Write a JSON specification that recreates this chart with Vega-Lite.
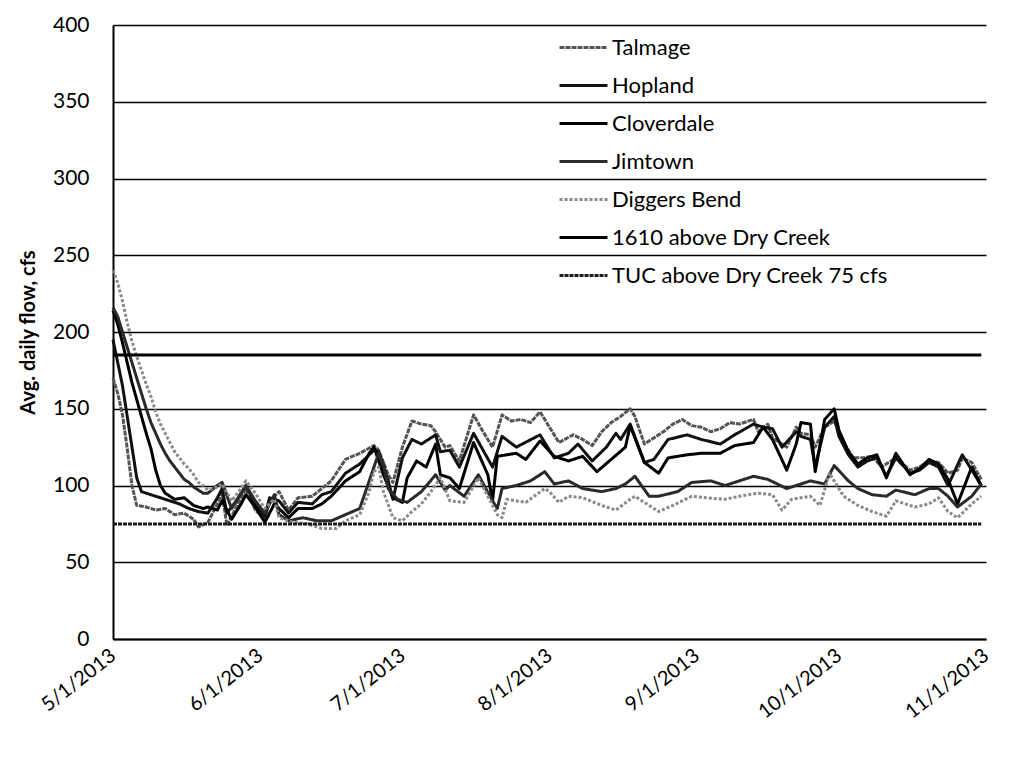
{
  "$schema": "https://vega.github.io/schema/vega-lite/v6.json",
  "width": 873,
  "height": 614,
  "autosize": "none",
  "padding": {"left": 113, "top": 25, "right": 41, "bottom": 121},
  "background": "white",
  "config": {
    "font": "Lato",
    "view": {"stroke": null},
    "axis": {"labelFont": "Lato", "titleFont": "Lato", "labelColor": "#000", "titleColor": "#000"}
  },
  "datasets": {
    "flows": [
      {"s":"Talmage","d":"2013-05-01","v":170},{"s":"Talmage","d":"2013-05-02","v":160},{"s":"Talmage","d":"2013-05-03","v":146},{"s":"Talmage","d":"2013-05-04","v":124},{"s":"Talmage","d":"2013-05-05","v":100},{"s":"Talmage","d":"2013-05-06","v":87},{"s":"Talmage","d":"2013-05-08","v":86},{"s":"Talmage","d":"2013-05-10","v":84},{"s":"Talmage","d":"2013-05-12","v":85},{"s":"Talmage","d":"2013-05-14","v":81},{"s":"Talmage","d":"2013-05-16","v":82},{"s":"Talmage","d":"2013-05-18","v":78},{"s":"Talmage","d":"2013-05-19","v":73},{"s":"Talmage","d":"2013-05-21","v":76},{"s":"Talmage","d":"2013-05-23","v":88},{"s":"Talmage","d":"2013-05-24","v":95},{"s":"Talmage","d":"2013-05-25","v":74},{"s":"Talmage","d":"2013-05-27","v":86},{"s":"Talmage","d":"2013-05-29","v":98},{"s":"Talmage","d":"2013-05-31","v":84},{"s":"Talmage","d":"2013-06-02","v":78},{"s":"Talmage","d":"2013-06-03","v":90},{"s":"Talmage","d":"2013-06-05","v":96},{"s":"Talmage","d":"2013-06-07","v":84},{"s":"Talmage","d":"2013-06-09","v":92},{"s":"Talmage","d":"2013-06-12","v":93},{"s":"Talmage","d":"2013-06-14","v":98},{"s":"Talmage","d":"2013-06-16","v":103},{"s":"Talmage","d":"2013-06-19","v":117},{"s":"Talmage","d":"2013-06-22","v":121},{"s":"Talmage","d":"2013-06-25","v":126},{"s":"Talmage","d":"2013-06-26","v":123},{"s":"Talmage","d":"2013-06-28","v":107},{"s":"Talmage","d":"2013-06-29","v":102},{"s":"Talmage","d":"2013-07-01","v":125},{"s":"Talmage","d":"2013-07-03","v":142},{"s":"Talmage","d":"2013-07-05","v":140},{"s":"Talmage","d":"2013-07-07","v":139},{"s":"Talmage","d":"2013-07-08","v":135},{"s":"Talmage","d":"2013-07-10","v":125},{"s":"Talmage","d":"2013-07-11","v":126},{"s":"Talmage","d":"2013-07-13","v":116},{"s":"Talmage","d":"2013-07-16","v":146},{"s":"Talmage","d":"2013-07-18","v":135},{"s":"Talmage","d":"2013-07-20","v":125},{"s":"Talmage","d":"2013-07-22","v":146},{"s":"Talmage","d":"2013-07-24","v":142},{"s":"Talmage","d":"2013-07-26","v":143},{"s":"Talmage","d":"2013-07-28","v":141},{"s":"Talmage","d":"2013-07-30","v":148},{"s":"Talmage","d":"2013-08-01","v":138},{"s":"Talmage","d":"2013-08-03","v":128},{"s":"Talmage","d":"2013-08-06","v":133},{"s":"Talmage","d":"2013-08-08","v":130},{"s":"Talmage","d":"2013-08-10","v":126},{"s":"Talmage","d":"2013-08-12","v":135},{"s":"Talmage","d":"2013-08-14","v":141},{"s":"Talmage","d":"2013-08-16","v":145},{"s":"Talmage","d":"2013-08-18","v":150},{"s":"Talmage","d":"2013-08-19","v":145},{"s":"Talmage","d":"2013-08-21","v":127},{"s":"Talmage","d":"2013-08-23","v":131},{"s":"Talmage","d":"2013-08-25","v":135},{"s":"Talmage","d":"2013-08-27","v":140},{"s":"Talmage","d":"2013-08-29","v":143},{"s":"Talmage","d":"2013-08-31","v":139},{"s":"Talmage","d":"2013-09-02","v":138},{"s":"Talmage","d":"2013-09-04","v":135},{"s":"Talmage","d":"2013-09-06","v":137},{"s":"Talmage","d":"2013-09-08","v":141},{"s":"Talmage","d":"2013-09-10","v":140},{"s":"Talmage","d":"2013-09-13","v":143},{"s":"Talmage","d":"2013-09-14","v":135},{"s":"Talmage","d":"2013-09-16","v":140},{"s":"Talmage","d":"2013-09-17","v":131},{"s":"Talmage","d":"2013-09-20","v":125},{"s":"Talmage","d":"2013-09-22","v":138},{"s":"Talmage","d":"2013-09-23","v":134},{"s":"Talmage","d":"2013-09-25","v":133},{"s":"Talmage","d":"2013-09-26","v":125},{"s":"Talmage","d":"2013-09-28","v":138},{"s":"Talmage","d":"2013-09-30","v":142},{"s":"Talmage","d":"2013-10-02","v":128},{"s":"Talmage","d":"2013-10-04","v":118},{"s":"Talmage","d":"2013-10-06","v":118},{"s":"Talmage","d":"2013-10-08","v":119},{"s":"Talmage","d":"2013-10-10","v":112},{"s":"Talmage","d":"2013-10-13","v":118},{"s":"Talmage","d":"2013-10-16","v":110},{"s":"Talmage","d":"2013-10-18","v":112},{"s":"Talmage","d":"2013-10-20","v":116},{"s":"Talmage","d":"2013-10-22","v":115},{"s":"Talmage","d":"2013-10-24","v":108},{"s":"Talmage","d":"2013-10-26","v":110},{"s":"Talmage","d":"2013-10-27","v":118},{"s":"Talmage","d":"2013-10-29","v":115},{"s":"Talmage","d":"2013-10-31","v":104},

      {"s":"Hopland","d":"2013-05-01","v":195},{"s":"Hopland","d":"2013-05-02","v":180},{"s":"Hopland","d":"2013-05-03","v":165},{"s":"Hopland","d":"2013-05-04","v":145},{"s":"Hopland","d":"2013-05-05","v":125},{"s":"Hopland","d":"2013-05-06","v":105},{"s":"Hopland","d":"2013-05-07","v":96},{"s":"Hopland","d":"2013-05-09","v":94},{"s":"Hopland","d":"2013-05-11","v":92},{"s":"Hopland","d":"2013-05-13","v":90},{"s":"Hopland","d":"2013-05-15","v":88},{"s":"Hopland","d":"2013-05-17","v":85},{"s":"Hopland","d":"2013-05-19","v":83},{"s":"Hopland","d":"2013-05-21","v":82},{"s":"Hopland","d":"2013-05-23","v":92},{"s":"Hopland","d":"2013-05-24","v":98},{"s":"Hopland","d":"2013-05-25","v":82},{"s":"Hopland","d":"2013-05-27","v":90},{"s":"Hopland","d":"2013-05-29","v":100},{"s":"Hopland","d":"2013-05-31","v":88},{"s":"Hopland","d":"2013-06-02","v":80},{"s":"Hopland","d":"2013-06-03","v":92},{"s":"Hopland","d":"2013-06-05","v":90},{"s":"Hopland","d":"2013-06-07","v":82},{"s":"Hopland","d":"2013-06-09","v":89},{"s":"Hopland","d":"2013-06-12","v":88},{"s":"Hopland","d":"2013-06-14","v":94},{"s":"Hopland","d":"2013-06-16","v":96},{"s":"Hopland","d":"2013-06-19","v":108},{"s":"Hopland","d":"2013-06-22","v":114},{"s":"Hopland","d":"2013-06-25","v":123},{"s":"Hopland","d":"2013-06-26","v":122},{"s":"Hopland","d":"2013-06-28","v":103},{"s":"Hopland","d":"2013-06-29","v":91},{"s":"Hopland","d":"2013-07-01","v":118},{"s":"Hopland","d":"2013-07-03","v":130},{"s":"Hopland","d":"2013-07-05","v":127},{"s":"Hopland","d":"2013-07-08","v":133},{"s":"Hopland","d":"2013-07-09","v":122},{"s":"Hopland","d":"2013-07-11","v":123},{"s":"Hopland","d":"2013-07-13","v":112},{"s":"Hopland","d":"2013-07-16","v":134},{"s":"Hopland","d":"2013-07-20","v":112},{"s":"Hopland","d":"2013-07-22","v":132},{"s":"Hopland","d":"2013-07-25","v":125},{"s":"Hopland","d":"2013-07-30","v":133},{"s":"Hopland","d":"2013-08-02","v":118},{"s":"Hopland","d":"2013-08-05","v":121},{"s":"Hopland","d":"2013-08-07","v":127},{"s":"Hopland","d":"2013-08-10","v":116},{"s":"Hopland","d":"2013-08-13","v":125},{"s":"Hopland","d":"2013-08-15","v":134},{"s":"Hopland","d":"2013-08-16","v":130},{"s":"Hopland","d":"2013-08-18","v":140},{"s":"Hopland","d":"2013-08-21","v":115},{"s":"Hopland","d":"2013-08-23","v":117},{"s":"Hopland","d":"2013-08-26","v":130},{"s":"Hopland","d":"2013-08-30","v":133},{"s":"Hopland","d":"2013-09-02","v":130},{"s":"Hopland","d":"2013-09-06","v":127},{"s":"Hopland","d":"2013-09-09","v":133},{"s":"Hopland","d":"2013-09-13","v":140},{"s":"Hopland","d":"2013-09-15","v":138},{"s":"Hopland","d":"2013-09-17","v":137},{"s":"Hopland","d":"2013-09-19","v":125},{"s":"Hopland","d":"2013-09-22","v":135},{"s":"Hopland","d":"2013-09-23","v":132},{"s":"Hopland","d":"2013-09-25","v":130},{"s":"Hopland","d":"2013-09-26","v":112},{"s":"Hopland","d":"2013-09-28","v":138},{"s":"Hopland","d":"2013-09-30","v":145},{"s":"Hopland","d":"2013-10-01","v":132},{"s":"Hopland","d":"2013-10-03","v":120},{"s":"Hopland","d":"2013-10-05","v":112},{"s":"Hopland","d":"2013-10-07","v":116},{"s":"Hopland","d":"2013-10-09","v":118},{"s":"Hopland","d":"2013-10-11","v":106},{"s":"Hopland","d":"2013-10-13","v":118},{"s":"Hopland","d":"2013-10-16","v":108},{"s":"Hopland","d":"2013-10-18","v":110},{"s":"Hopland","d":"2013-10-20","v":115},{"s":"Hopland","d":"2013-10-22","v":112},{"s":"Hopland","d":"2013-10-24","v":100},{"s":"Hopland","d":"2013-10-27","v":120},{"s":"Hopland","d":"2013-10-29","v":110},{"s":"Hopland","d":"2013-10-31","v":100},

      {"s":"Cloverdale","d":"2013-05-01","v":214},{"s":"Cloverdale","d":"2013-05-02","v":205},{"s":"Cloverdale","d":"2013-05-03","v":193},{"s":"Cloverdale","d":"2013-05-04","v":180},{"s":"Cloverdale","d":"2013-05-05","v":167},{"s":"Cloverdale","d":"2013-05-06","v":156},{"s":"Cloverdale","d":"2013-05-07","v":145},{"s":"Cloverdale","d":"2013-05-08","v":134},{"s":"Cloverdale","d":"2013-05-09","v":124},{"s":"Cloverdale","d":"2013-05-10","v":110},{"s":"Cloverdale","d":"2013-05-11","v":100},{"s":"Cloverdale","d":"2013-05-12","v":95},{"s":"Cloverdale","d":"2013-05-14","v":91},{"s":"Cloverdale","d":"2013-05-16","v":92},{"s":"Cloverdale","d":"2013-05-18","v":87},{"s":"Cloverdale","d":"2013-05-20","v":85},{"s":"Cloverdale","d":"2013-05-21","v":86},{"s":"Cloverdale","d":"2013-05-23","v":84},{"s":"Cloverdale","d":"2013-05-24","v":90},{"s":"Cloverdale","d":"2013-05-26","v":78},{"s":"Cloverdale","d":"2013-05-28","v":88},{"s":"Cloverdale","d":"2013-05-29","v":94},{"s":"Cloverdale","d":"2013-05-31","v":86},{"s":"Cloverdale","d":"2013-06-02","v":76},{"s":"Cloverdale","d":"2013-06-04","v":88},{"s":"Cloverdale","d":"2013-06-05","v":85},{"s":"Cloverdale","d":"2013-06-07","v":79},{"s":"Cloverdale","d":"2013-06-09","v":85},{"s":"Cloverdale","d":"2013-06-12","v":85},{"s":"Cloverdale","d":"2013-06-14","v":88},{"s":"Cloverdale","d":"2013-06-16","v":93},{"s":"Cloverdale","d":"2013-06-19","v":103},{"s":"Cloverdale","d":"2013-06-22","v":109},{"s":"Cloverdale","d":"2013-06-24","v":121},{"s":"Cloverdale","d":"2013-06-25","v":125},{"s":"Cloverdale","d":"2013-06-27","v":107},{"s":"Cloverdale","d":"2013-06-29","v":92},{"s":"Cloverdale","d":"2013-07-01","v":89},{"s":"Cloverdale","d":"2013-07-02","v":105},{"s":"Cloverdale","d":"2013-07-04","v":116},{"s":"Cloverdale","d":"2013-07-06","v":112},{"s":"Cloverdale","d":"2013-07-08","v":127},{"s":"Cloverdale","d":"2013-07-09","v":107},{"s":"Cloverdale","d":"2013-07-11","v":105},{"s":"Cloverdale","d":"2013-07-13","v":98},{"s":"Cloverdale","d":"2013-07-16","v":128},{"s":"Cloverdale","d":"2013-07-19","v":107},{"s":"Cloverdale","d":"2013-07-20","v":90},{"s":"Cloverdale","d":"2013-07-21","v":119},{"s":"Cloverdale","d":"2013-07-25","v":121},{"s":"Cloverdale","d":"2013-07-27","v":117},{"s":"Cloverdale","d":"2013-07-30","v":129},{"s":"Cloverdale","d":"2013-08-02","v":119},{"s":"Cloverdale","d":"2013-08-05","v":116},{"s":"Cloverdale","d":"2013-08-08","v":119},{"s":"Cloverdale","d":"2013-08-11","v":109},{"s":"Cloverdale","d":"2013-08-14","v":117},{"s":"Cloverdale","d":"2013-08-17","v":125},{"s":"Cloverdale","d":"2013-08-18","v":139},{"s":"Cloverdale","d":"2013-08-21","v":115},{"s":"Cloverdale","d":"2013-08-24","v":108},{"s":"Cloverdale","d":"2013-08-26","v":118},{"s":"Cloverdale","d":"2013-08-30","v":120},{"s":"Cloverdale","d":"2013-09-02","v":121},{"s":"Cloverdale","d":"2013-09-06","v":121},{"s":"Cloverdale","d":"2013-09-09","v":126},{"s":"Cloverdale","d":"2013-09-13","v":128},{"s":"Cloverdale","d":"2013-09-15","v":138},{"s":"Cloverdale","d":"2013-09-17","v":130},{"s":"Cloverdale","d":"2013-09-20","v":110},{"s":"Cloverdale","d":"2013-09-22","v":127},{"s":"Cloverdale","d":"2013-09-23","v":141},{"s":"Cloverdale","d":"2013-09-25","v":140},{"s":"Cloverdale","d":"2013-09-26","v":109},{"s":"Cloverdale","d":"2013-09-28","v":143},{"s":"Cloverdale","d":"2013-09-30","v":150},{"s":"Cloverdale","d":"2013-10-01","v":136},{"s":"Cloverdale","d":"2013-10-03","v":122},{"s":"Cloverdale","d":"2013-10-05","v":114},{"s":"Cloverdale","d":"2013-10-07","v":118},{"s":"Cloverdale","d":"2013-10-09","v":120},{"s":"Cloverdale","d":"2013-10-11","v":105},{"s":"Cloverdale","d":"2013-10-13","v":121},{"s":"Cloverdale","d":"2013-10-16","v":107},{"s":"Cloverdale","d":"2013-10-18","v":111},{"s":"Cloverdale","d":"2013-10-20","v":117},{"s":"Cloverdale","d":"2013-10-22","v":114},{"s":"Cloverdale","d":"2013-10-24","v":104},{"s":"Cloverdale","d":"2013-10-26","v":88},{"s":"Cloverdale","d":"2013-10-29","v":112},{"s":"Cloverdale","d":"2013-10-31","v":100},

      {"s":"Jimtown","d":"2013-05-01","v":216},{"s":"Jimtown","d":"2013-05-02","v":210},{"s":"Jimtown","d":"2013-05-03","v":200},{"s":"Jimtown","d":"2013-05-04","v":190},{"s":"Jimtown","d":"2013-05-05","v":180},{"s":"Jimtown","d":"2013-05-06","v":170},{"s":"Jimtown","d":"2013-05-07","v":160},{"s":"Jimtown","d":"2013-05-08","v":150},{"s":"Jimtown","d":"2013-05-09","v":141},{"s":"Jimtown","d":"2013-05-10","v":134},{"s":"Jimtown","d":"2013-05-11","v":127},{"s":"Jimtown","d":"2013-05-12","v":121},{"s":"Jimtown","d":"2013-05-13","v":116},{"s":"Jimtown","d":"2013-05-14","v":112},{"s":"Jimtown","d":"2013-05-15","v":108},{"s":"Jimtown","d":"2013-05-16","v":104},{"s":"Jimtown","d":"2013-05-17","v":102},{"s":"Jimtown","d":"2013-05-18","v":99},{"s":"Jimtown","d":"2013-05-19","v":97},{"s":"Jimtown","d":"2013-05-20","v":95},{"s":"Jimtown","d":"2013-05-21","v":95},{"s":"Jimtown","d":"2013-05-23","v":100},{"s":"Jimtown","d":"2013-05-24","v":102},{"s":"Jimtown","d":"2013-05-26","v":85},{"s":"Jimtown","d":"2013-05-28","v":95},{"s":"Jimtown","d":"2013-05-29","v":100},{"s":"Jimtown","d":"2013-05-31","v":90},{"s":"Jimtown","d":"2013-06-02","v":82},{"s":"Jimtown","d":"2013-06-04","v":94},{"s":"Jimtown","d":"2013-06-05","v":81},{"s":"Jimtown","d":"2013-06-07","v":77},{"s":"Jimtown","d":"2013-06-10","v":79},{"s":"Jimtown","d":"2013-06-13","v":77},{"s":"Jimtown","d":"2013-06-16","v":77},{"s":"Jimtown","d":"2013-06-19","v":81},{"s":"Jimtown","d":"2013-06-22","v":85},{"s":"Jimtown","d":"2013-06-24","v":103},{"s":"Jimtown","d":"2013-06-26","v":121},{"s":"Jimtown","d":"2013-06-27","v":114},{"s":"Jimtown","d":"2013-06-28","v":98},{"s":"Jimtown","d":"2013-06-30","v":91},{"s":"Jimtown","d":"2013-07-02","v":89},{"s":"Jimtown","d":"2013-07-05","v":96},{"s":"Jimtown","d":"2013-07-08","v":107},{"s":"Jimtown","d":"2013-07-10","v":97},{"s":"Jimtown","d":"2013-07-11","v":100},{"s":"Jimtown","d":"2013-07-14","v":93},{"s":"Jimtown","d":"2013-07-17","v":107},{"s":"Jimtown","d":"2013-07-20","v":90},{"s":"Jimtown","d":"2013-07-21","v":85},{"s":"Jimtown","d":"2013-07-22","v":98},{"s":"Jimtown","d":"2013-07-25","v":100},{"s":"Jimtown","d":"2013-07-28","v":103},{"s":"Jimtown","d":"2013-07-31","v":109},{"s":"Jimtown","d":"2013-08-02","v":101},{"s":"Jimtown","d":"2013-08-05","v":103},{"s":"Jimtown","d":"2013-08-08","v":98},{"s":"Jimtown","d":"2013-08-12","v":96},{"s":"Jimtown","d":"2013-08-15","v":98},{"s":"Jimtown","d":"2013-08-17","v":101},{"s":"Jimtown","d":"2013-08-19","v":106},{"s":"Jimtown","d":"2013-08-22","v":93},{"s":"Jimtown","d":"2013-08-24","v":93},{"s":"Jimtown","d":"2013-08-28","v":96},{"s":"Jimtown","d":"2013-08-31","v":102},{"s":"Jimtown","d":"2013-09-04","v":103},{"s":"Jimtown","d":"2013-09-07","v":100},{"s":"Jimtown","d":"2013-09-10","v":103},{"s":"Jimtown","d":"2013-09-13","v":106},{"s":"Jimtown","d":"2013-09-16","v":104},{"s":"Jimtown","d":"2013-09-18","v":101},{"s":"Jimtown","d":"2013-09-20","v":98},{"s":"Jimtown","d":"2013-09-23","v":101},{"s":"Jimtown","d":"2013-09-25","v":103},{"s":"Jimtown","d":"2013-09-28","v":101},{"s":"Jimtown","d":"2013-09-30","v":113},{"s":"Jimtown","d":"2013-10-03","v":103},{"s":"Jimtown","d":"2013-10-05","v":98},{"s":"Jimtown","d":"2013-10-08","v":94},{"s":"Jimtown","d":"2013-10-11","v":93},{"s":"Jimtown","d":"2013-10-13","v":97},{"s":"Jimtown","d":"2013-10-17","v":94},{"s":"Jimtown","d":"2013-10-20","v":98},{"s":"Jimtown","d":"2013-10-22","v":98},{"s":"Jimtown","d":"2013-10-24","v":93},{"s":"Jimtown","d":"2013-10-26","v":86},{"s":"Jimtown","d":"2013-10-29","v":93},{"s":"Jimtown","d":"2013-10-31","v":101},

      {"s":"Diggers Bend","d":"2013-05-01","v":240},{"s":"Diggers Bend","d":"2013-05-02","v":232},{"s":"Diggers Bend","d":"2013-05-03","v":220},{"s":"Diggers Bend","d":"2013-05-04","v":206},{"s":"Diggers Bend","d":"2013-05-05","v":194},{"s":"Diggers Bend","d":"2013-05-06","v":184},{"s":"Diggers Bend","d":"2013-05-07","v":175},{"s":"Diggers Bend","d":"2013-05-08","v":166},{"s":"Diggers Bend","d":"2013-05-09","v":158},{"s":"Diggers Bend","d":"2013-05-10","v":148},{"s":"Diggers Bend","d":"2013-05-11","v":140},{"s":"Diggers Bend","d":"2013-05-12","v":134},{"s":"Diggers Bend","d":"2013-05-13","v":128},{"s":"Diggers Bend","d":"2013-05-14","v":122},{"s":"Diggers Bend","d":"2013-05-15","v":118},{"s":"Diggers Bend","d":"2013-05-16","v":114},{"s":"Diggers Bend","d":"2013-05-17","v":111},{"s":"Diggers Bend","d":"2013-05-18","v":107},{"s":"Diggers Bend","d":"2013-05-19","v":102},{"s":"Diggers Bend","d":"2013-05-20","v":100},{"s":"Diggers Bend","d":"2013-05-21","v":97},{"s":"Diggers Bend","d":"2013-05-23","v":99},{"s":"Diggers Bend","d":"2013-05-24","v":101},{"s":"Diggers Bend","d":"2013-05-26","v":90},{"s":"Diggers Bend","d":"2013-05-28","v":98},{"s":"Diggers Bend","d":"2013-05-29","v":103},{"s":"Diggers Bend","d":"2013-05-31","v":95},{"s":"Diggers Bend","d":"2013-06-02","v":85},{"s":"Diggers Bend","d":"2013-06-04","v":91},{"s":"Diggers Bend","d":"2013-06-05","v":79},{"s":"Diggers Bend","d":"2013-06-08","v":76},{"s":"Diggers Bend","d":"2013-06-11","v":75},{"s":"Diggers Bend","d":"2013-06-14","v":72},{"s":"Diggers Bend","d":"2013-06-17","v":72},{"s":"Diggers Bend","d":"2013-06-19","v":77},{"s":"Diggers Bend","d":"2013-06-22","v":81},{"s":"Diggers Bend","d":"2013-06-24","v":96},{"s":"Diggers Bend","d":"2013-06-25","v":109},{"s":"Diggers Bend","d":"2013-06-26","v":112},{"s":"Diggers Bend","d":"2013-06-27","v":96},{"s":"Diggers Bend","d":"2013-06-29","v":79},{"s":"Diggers Bend","d":"2013-07-01","v":77},{"s":"Diggers Bend","d":"2013-07-03","v":83},{"s":"Diggers Bend","d":"2013-07-05","v":88},{"s":"Diggers Bend","d":"2013-07-07","v":96},{"s":"Diggers Bend","d":"2013-07-09","v":105},{"s":"Diggers Bend","d":"2013-07-11","v":90},{"s":"Diggers Bend","d":"2013-07-14","v":89},{"s":"Diggers Bend","d":"2013-07-17","v":105},{"s":"Diggers Bend","d":"2013-07-21","v":81},{"s":"Diggers Bend","d":"2013-07-22","v":79},{"s":"Diggers Bend","d":"2013-07-23","v":91},{"s":"Diggers Bend","d":"2013-07-27","v":89},{"s":"Diggers Bend","d":"2013-07-31","v":98},{"s":"Diggers Bend","d":"2013-08-01","v":96},{"s":"Diggers Bend","d":"2013-08-03","v":89},{"s":"Diggers Bend","d":"2013-08-05","v":93},{"s":"Diggers Bend","d":"2013-08-08","v":92},{"s":"Diggers Bend","d":"2013-08-12","v":87},{"s":"Diggers Bend","d":"2013-08-15","v":84},{"s":"Diggers Bend","d":"2013-08-18","v":91},{"s":"Diggers Bend","d":"2013-08-19","v":93},{"s":"Diggers Bend","d":"2013-08-22","v":87},{"s":"Diggers Bend","d":"2013-08-24","v":83},{"s":"Diggers Bend","d":"2013-08-27","v":87},{"s":"Diggers Bend","d":"2013-08-31","v":93},{"s":"Diggers Bend","d":"2013-09-03","v":92},{"s":"Diggers Bend","d":"2013-09-07","v":91},{"s":"Diggers Bend","d":"2013-09-10","v":93},{"s":"Diggers Bend","d":"2013-09-14","v":95},{"s":"Diggers Bend","d":"2013-09-17","v":94},{"s":"Diggers Bend","d":"2013-09-19","v":84},{"s":"Diggers Bend","d":"2013-09-21","v":91},{"s":"Diggers Bend","d":"2013-09-25","v":93},{"s":"Diggers Bend","d":"2013-09-27","v":87},{"s":"Diggers Bend","d":"2013-09-29","v":108},{"s":"Diggers Bend","d":"2013-10-02","v":93},{"s":"Diggers Bend","d":"2013-10-05","v":87},{"s":"Diggers Bend","d":"2013-10-08","v":83},{"s":"Diggers Bend","d":"2013-10-11","v":80},{"s":"Diggers Bend","d":"2013-10-13","v":90},{"s":"Diggers Bend","d":"2013-10-17","v":86},{"s":"Diggers Bend","d":"2013-10-20","v":88},{"s":"Diggers Bend","d":"2013-10-22","v":92},{"s":"Diggers Bend","d":"2013-10-24","v":83},{"s":"Diggers Bend","d":"2013-10-26","v":79},{"s":"Diggers Bend","d":"2013-10-29","v":88},{"s":"Diggers Bend","d":"2013-10-31","v":93},

      {"s":"1610 above Dry Creek","d":"2013-05-01","v":185},{"s":"1610 above Dry Creek","d":"2013-10-31","v":185},
      {"s":"TUC above Dry Creek 75 cfs","d":"2013-05-01","v":75},{"s":"TUC above Dry Creek 75 cfs","d":"2013-10-31","v":75}
    ]
  },
  "data": {"name": "flows"},
  "mark": {"type": "line", "strokeJoin": "round", "strokeCap": "butt"},
  "encoding": {
    "x": {
      "field": "d", "type": "temporal",
      "scale": {"type": "utc", "domain": [{"year": 2013, "month": 5, "date": 1, "utc": true}, {"year": 2013, "month": 11, "date": 1, "utc": true}]},
      "axis": {
        "title": null,
        "tickCount": {"interval": "month", "step": 1},
        "labelExpr": "utcFormat(datum.value, '%-m/%-d/%Y')",
        "labelAngle": -38, "labelAlign": "right", "labelBaseline": "middle",
        "labelFontSize": 20, "labelPadding": 14, "labelOverlap": false, "labelFlush": false, "labelBound": false,
        "ticks": false, "grid": false, "domainColor": "#000", "domainWidth": 2
      }
    },
    "y": {
      "field": "v", "type": "quantitative",
      "scale": {"domain": [0, 400], "nice": false},
      "axis": {
        "title": "Avg. daily flow, cfs", "titleFontSize": 20, "titleFontWeight": "bold", "titlePadding": 14,
        "values": [0, 50, 100, 150, 200, 250, 300, 350, 400],
        "labelFontSize": 21, "labelPadding": 24, "ticks": false,
        "grid": true, "gridColor": "#000", "gridWidth": 1.5, "gridOpacity": 1,
        "domainColor": "#000", "domainWidth": 2
      }
    },
    "color": {
      "field": "s", "type": "nominal",
      "scale": {
        "domain": ["Talmage", "Hopland", "Cloverdale", "Jimtown", "Diggers Bend", "1610 above Dry Creek", "TUC above Dry Creek 75 cfs"],
        "range": ["#555555", "#111111", "#000000", "#2a2a2a", "#8a8a8a", "#000000", "#1a1a1a"]
      },
      "legend": {
        "title": null, "orient": "none", "legendX": 445, "legendY": -3,
        "symbolType": "stroke", "symbolSize": 2300, "symbolStrokeWidth": 3,
        "labelFontSize": 22, "labelFont": "Lato", "labelColor": "#000", "labelOffset": 3,
        "rowPadding": 1, "labelLimit": 400
      }
    },
    "strokeDash": {
      "field": "s", "type": "nominal",
      "scale": {
        "domain": ["Talmage", "Hopland", "Cloverdale", "Jimtown", "Diggers Bend", "1610 above Dry Creek", "TUC above Dry Creek 75 cfs"],
        "range": [[5, 1], [1, 0], [1, 0], [1, 0], [3, 2], [1, 0], [4, 1]]
      },
      "legend": {
        "title": null, "orient": "none", "legendX": 445, "legendY": -3,
        "symbolType": "stroke", "symbolSize": 2300, "symbolStrokeWidth": 3,
        "labelFontSize": 22, "labelFont": "Lato", "labelColor": "#000", "labelOffset": 3,
        "rowPadding": 1, "labelLimit": 400
      }
    },
    "strokeWidth": {
      "field": "s", "type": "nominal",
      "scale": {
        "domain": ["Talmage", "Hopland", "Cloverdale", "Jimtown", "Diggers Bend", "1610 above Dry Creek", "TUC above Dry Creek 75 cfs"],
        "range": [3, 3, 3.5, 3, 2, 4, 4]
      },
      "legend": null
    }
  }
}
